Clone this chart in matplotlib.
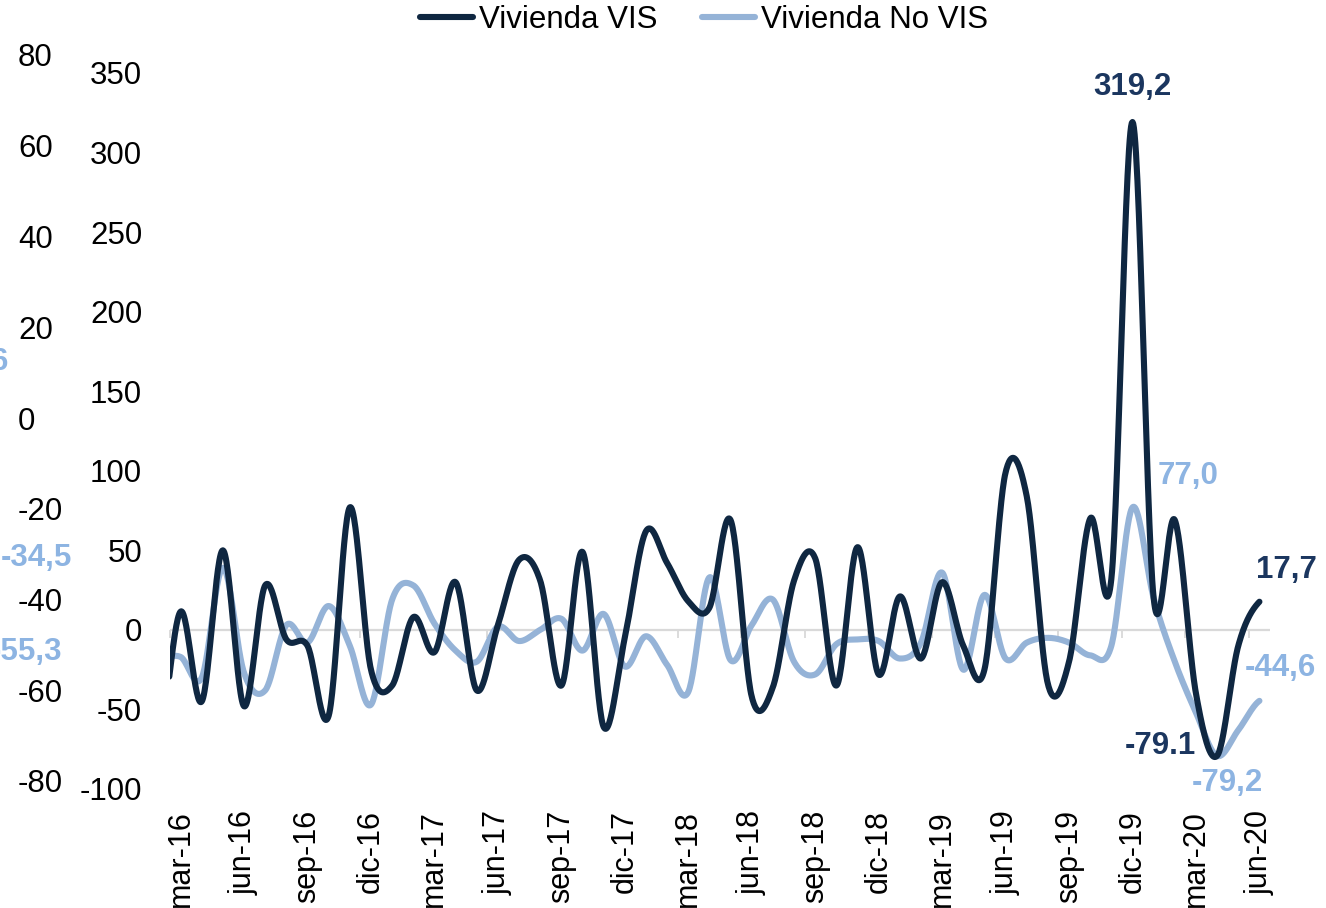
import numpy as np
import matplotlib
matplotlib.use("Agg")
import matplotlib.pyplot as plt

plt.rcParams['font.family'] = ['Liberation Sans', 'DejaVu Sans']

# monthly data, feb-16 .. jun-20 (feb-16 only shows as the clipped start of the line)
meses = ['feb-16', 'mar-16', 'abr-16', 'may-16', 'jun-16', 'jul-16', 'ago-16', 'sep-16', 'oct-16', 'nov-16', 'dic-16',
         'ene-17', 'feb-17', 'mar-17', 'abr-17', 'may-17', 'jun-17', 'jul-17', 'ago-17', 'sep-17', 'oct-17', 'nov-17', 'dic-17',
         'ene-18', 'feb-18', 'mar-18', 'abr-18', 'may-18', 'jun-18', 'jul-18', 'ago-18', 'sep-18', 'oct-18', 'nov-18', 'dic-18',
         'ene-19', 'feb-19', 'mar-19', 'abr-19', 'may-19', 'jun-19', 'jul-19', 'ago-19', 'sep-19', 'oct-19', 'nov-19', 'dic-19',
         'ene-20', 'feb-20', 'mar-20', 'abr-20', 'may-20', 'jun-20']
vis = [-70, 11.5, -45, 50, -48, 28, -6, -10, -54, 77, -25,
       -35, 8, -14, 30, -38, 3, 44, 31, -35, 49, -61, -5,
       62, 42, 18, 14, 69, -42, -36, 31, 45, -35, 52, -28,
       21, -18, 30, -10, -25, 99, 84, -34, -20, 70, 32, 319.2,
       20, 69, -40, -79.1, -10, 17.7]
no_vis = [-18, -17, -30, 39, -27, -38, 3, -8, 15, -10, -47,
          19, 28, 4, -13, -20, 2, -7, 0, 7, -13, 10, -23,
          -4, -22, -39, 33, -19, 3, 19, -20, -28, -9, -6, -7,
          -18, -8, 36, -25, 22, -18, -8, -5, -8, -16, -10, 77.0,
          20, -20, -52, -79.2, -63, -44.6]
etiquetas_x = ['mar-16', 'jun-16', 'sep-16', 'dic-16', 'mar-17', 'jun-17', 'sep-17', 'dic-17', 'mar-18',
               'jun-18', 'sep-18', 'dic-18', 'mar-19', 'jun-19', 'sep-19', 'dic-19', 'mar-20', 'jun-20']
yticks = [350, 300, 250, 200, 150, 100, 50, 0, -50, -100]
yticks_izq = [80, 60, 40, 20, 0, -20, -40, -60, -80]

oscuro = '#0f2741'
claro = '#95b3d7'
lab_oscuro = '#1b365f'
lab_claro = '#8db4e2'


def suavizar(y, n=30):
    # smoothing like excel (catmull-rom through every point)
    y = np.asarray(y, float)
    p = np.concatenate([[y[0]], y, [y[-1]]])
    xs, ys = [], []
    for i in range(len(y) - 1):
        p0, p1, p2, p3 = p[i], p[i + 1], p[i + 2], p[i + 3]
        t = np.linspace(0, 1, n, endpoint=False)
        b = (1 - t) ** 3 * p1 + 3 * (1 - t) ** 2 * t * (p1 + (p2 - p0) / 6) \
            + 3 * (1 - t) * t ** 2 * (p2 - (p3 - p1) / 6) + t ** 3 * p2
        xs.append(i + t)
        ys.append(b)
    xs.append([len(y) - 1])
    ys.append([y[-1]])
    return np.concatenate(xs), np.concatenate(ys)


W, H = 1326, 908
fig = plt.figure(figsize=(W / 100, H / 100), dpi=100)
ax = fig.add_axes([170 / W, (H - 789) / H, 1100 / W, 716 / H])

xv, yv = suavizar(vis)
xn, yn = suavizar(no_vis)
xv = xv - 1  # mar-16 -> 0
xn = xn - 1

ax.plot(xn, yn, color=claro, lw=4.4, solid_capstyle='round', label='Vivienda No VIS', zorder=3)
ax.plot(xv, yv, color=oscuro, lw=4.4, solid_capstyle='round', label='Vivienda VIS', zorder=4)

ax.set_xlim(-0.5, 51.5)
ax.set_ylim(-100, 350)
for s in ax.spines.values():
    s.set_visible(False)

pos = [meses.index(m) - 1 for m in etiquetas_x]
ax.set_xticks(pos)
ax.set_xticklabels(etiquetas_x, rotation=90, fontsize=22, va='top')
ax.tick_params(axis='x', length=0, pad=15)
ax.set_yticks(yticks)
ax.set_yticklabels([str(v) for v in yticks], fontsize=22.5)
ax.tick_params(axis='y', length=0, pad=20)

# zero line acting as category axis
ax.axhline(0, color='#d9d9d9', lw=1.6, zorder=1)
sec = ax.secondary_xaxis(100 / 450)
sec.spines['bottom'].set_visible(False)
sec.set_xticks([p - 0.5 for p in pos])
sec.tick_params(axis='x', length=6, width=1.3, color='#d9d9d9', labelbottom=False)

# data labels
kw = dict(fontsize=22.5, fontweight='bold', va='center', clip_on=False)
ax.text(45, 341, '319,2', color=lab_oscuro, ha='center', **kw)
ax.text(52.3, 37.7, '17,7', color=lab_oscuro, ha='center', **kw)
ax.text(46.3, -73, '-79.1', color=lab_oscuro, ha='center', **kw)
ax.text(46.2, 96.8, '77,0', color=lab_claro, ha='left', **kw)
ax.text(52.0, -24, '-44,6', color=lab_claro, ha='center', **kw)
ax.text(49.5, -96.2, '-79,2', color=lab_claro, ha='center', **kw)

# neighbouring chart's axis (cut off on the left)
ax2 = fig.add_axes([0, (H - 781) / H, 18 / W, 726 / H])
ax2.set_ylim(-80, 80)
ax2.set_xticks([])
for s in ax2.spines.values():
    s.set_visible(False)
ax2.patch.set_alpha(0)
ax2.yaxis.tick_right()
ax2.set_yticks(yticks_izq)
ax2.set_yticklabels([str(v) for v in yticks_izq], fontsize=22.5)
ax2.tick_params(axis='y', length=0, pad=0)

fig.text(8 / W, 1 - 362 / H, '6', color=lab_claro, fontsize=22.5, fontweight='bold', ha='right', va='center')
fig.text(72 / W, 1 - 558 / H, '-34,5', color=lab_claro, fontsize=22.5, fontweight='bold', ha='right', va='center')
fig.text(62 / W, 1 - 652 / H, '-55,3', color=lab_claro, fontsize=22.5, fontweight='bold', ha='right', va='center')

h, l = ax.get_legend_handles_labels()
fig.legend(h[::-1], l[::-1], loc='center', bbox_to_anchor=(704 / W, 1 - 20 / H), ncol=2, frameon=False,
           fontsize=22.5, handlelength=1.7, handletextpad=0.2, columnspacing=1.4, borderpad=0, borderaxespad=0)

fig.savefig('out.png', dpi=100)
